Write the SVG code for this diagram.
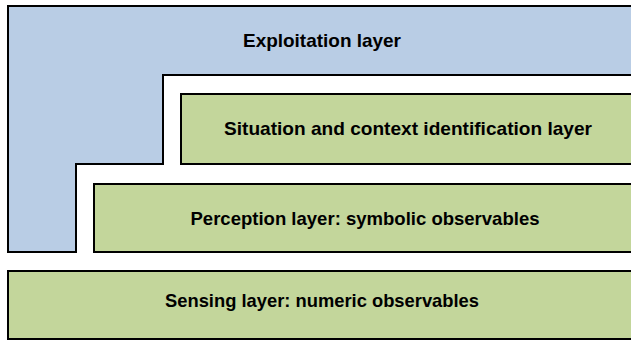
<svg xmlns="http://www.w3.org/2000/svg" width="631" height="341" viewBox="0 0 631 341">
<style>
.blue{fill:#b9cde5;stroke:#000;stroke-width:2;stroke-linejoin:miter}
.green{fill:#c3d69b;stroke:#000;stroke-width:2}
.lbl{font-family:"Liberation Sans",Arial,sans-serif;font-weight:bold;font-size:18.5px;fill:#000;text-anchor:middle}
</style>
<rect width="631" height="341" fill="#fff"/>
<g id="exploitation">
<path class="blue" d="M8,6 H640 V75 H163 V164 H76 V252 H8 Z"/>
<text class="lbl" x="322" y="47" textLength="158" lengthAdjust="spacingAndGlyphs">Exploitation layer</text>
</g>
<g id="situation">
<rect class="green" x="181" y="94" width="460" height="70"/>
<text class="lbl" x="408" y="135" textLength="368" lengthAdjust="spacingAndGlyphs">Situation and context identification layer</text>
</g>
<g id="perception">
<rect class="green" x="94" y="184" width="547" height="68"/>
<text class="lbl" x="365" y="225" textLength="349" lengthAdjust="spacingAndGlyphs">Perception layer: symbolic observables</text>
</g>
<g id="sensing">
<rect class="green" x="8" y="271" width="633" height="68"/>
<text class="lbl" x="322" y="306.5" textLength="314" lengthAdjust="spacingAndGlyphs">Sensing layer: numeric observables</text>
</g>
<g id="connectors"></g>
</svg>
